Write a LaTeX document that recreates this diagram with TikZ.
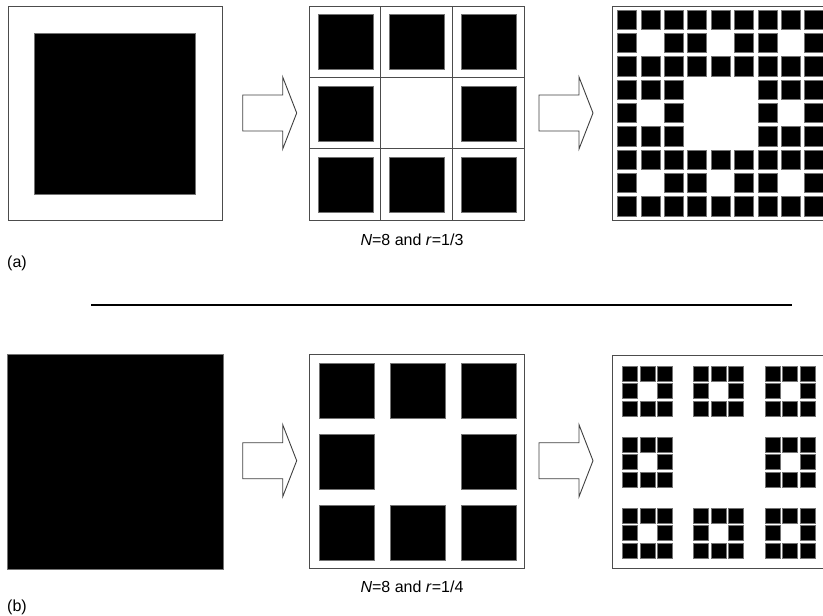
\documentclass[tikz,border=0pt]{standalone}
\usepackage{fontspec}
\setmainfont{Liberation Sans}
\usetikzlibrary{arrows.meta,calc,positioning}
\tikzset{
  >=Stealth,
  every node/.style={font=\fontsize{16}{18}\selectfont},
  frame/.style={draw=black!70,line width=0.9pt},
  blk/.style={fill=black,draw=black!55,line width=0.4pt},
  fatarrow/.pic={
    \draw[draw=black!75,line width=0.9pt,fill=white,line join=miter]
      (0,-18) -- (40,-18) -- (40,-36) -- (54,0) -- (40,36) -- (40,18) -- (0,18) -- cycle;
  },
}

\begin{document}
\begin{tikzpicture}[x=1pt,y=-1pt]
  \clip (0,0) rectangle (823,616);

  % (a) square, 3x3 grid, carpet
  \coordinate (a1) at (8,6);
  \coordinate (a2) at (309,6);
  \coordinate (a3) at (612,6);

  \draw[frame] (a1) rectangle ++(214,214);
  \fill[blk] (34,33) rectangle (195,194);

  \pic at (242.7,113) {fatarrow};

  \draw[frame] (a2) rectangle ++(215,214);
  \foreach \k in {1,2} {
    \draw[frame] ($(a2)+(71.67*\k,0)$) -- ++(0,214);
    \draw[frame] ($(a2)+(0,71.33*\k)$) -- ++(215,0);
  }
  \foreach \i in {0,1,2}
    \foreach \j in {0,1,2} {
      \pgfmathtruncatemacro\hole{\i==1 && \j==1}
      \ifnum\hole=0
        \fill[blk] ($(a2)+(8.8+71.67*\i,8.6+71.33*\j)$) rectangle ++(55,55);
      \fi
    }

  \pic at (539,113) {fatarrow};

  \draw[frame] (a3) rectangle ++(215,214);
  \foreach \i in {0,...,8}
    \foreach \j in {0,...,8} {
      \pgfmathtruncatemacro\hole{(mod(\i,3)==1 && mod(\j,3)==1) || (int(\i/3)==1 && int(\j/3)==1)}
      \ifnum\hole=0
        \fill[blk] ($(a3)+(5.3+23.4*\i,4+23.3*\j)$) rectangle ++(19,19.3);
      \fi
    }

  \node (capa) at (412,240) {\textit{N}=8 and \textit{r}=1/3};
  \node[anchor=west,inner sep=0pt] (laba) at (7,263) {(a)};

  \coordinate (sepl) at (91,305);
  \coordinate (sepr) at (792,305);
  \draw[line width=1.2pt] (sepl) -- (sepr);

  % (b) square, 8 squares, 8 small carpets
  \coordinate (b1) at (7.3,354.3);
  \coordinate (b2) at (309,354.3);
  \coordinate (b3) at (612.3,355);

  \fill[blk] (b1) rectangle ++(215.4,214.4);

  \pic at (242.7,460.7) {fatarrow};

  \draw[frame] (b2) rectangle ++(215,214);
  \foreach \i in {0,1,2}
    \foreach \j in {0,1,2} {
      \pgfmathtruncatemacro\hole{\i==1 && \j==1}
      \ifnum\hole=0
        \fill[blk] ($(b2)+(10.3+71*\i,8.7+71.1*\j)$) rectangle ++(55,54.8);
      \fi
    }

  \pic at (539,460.7) {fatarrow};

  \draw[frame] (b3) rectangle ++(215,213.3);
  \foreach \bi in {0,1,2}
    \foreach \bj in {0,1,2} {
      \pgfmathtruncatemacro\bhole{\bi==1 && \bj==1}
      \ifnum\bhole=0
        \foreach \i in {0,1,2}
          \foreach \j in {0,1,2} {
            \pgfmathtruncatemacro\hole{\i==1 && \j==1}
            \ifnum\hole=0
              \fill[blk] ($(b3)+(10+71.3*\bi+17.5*\i,10.7+71*\bj+17.5*\j)$) rectangle ++(15,15);
            \fi
          }
      \fi
    }

  \node (capb) at (412,587) {\textit{N}=8 and \textit{r}=1/4};
  \node[anchor=west,inner sep=0pt] (labb) at (7,607) {(b)};
\end{tikzpicture}
\end{document}
